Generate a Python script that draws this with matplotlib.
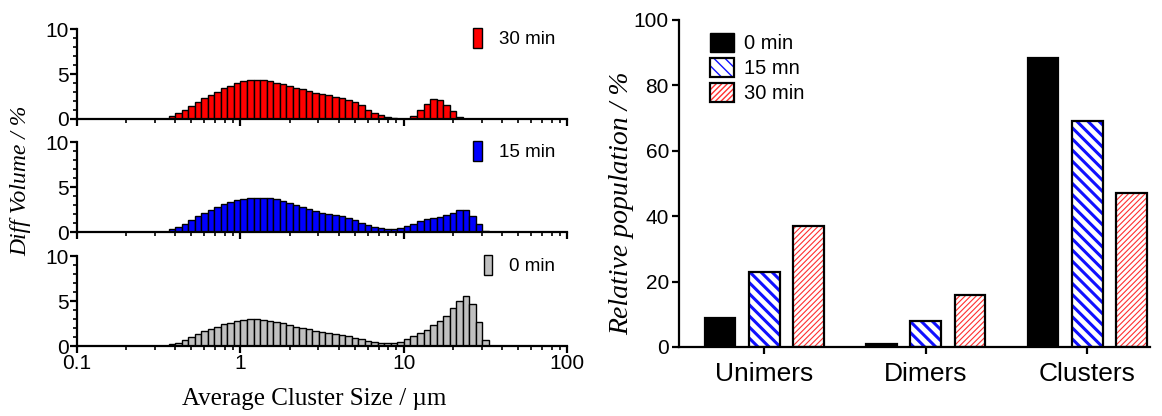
import numpy as np
import matplotlib
matplotlib.use("Agg")
import matplotlib.pyplot as plt
from matplotlib.patches import Patch
from matplotlib.ticker import LogLocator, FixedLocator, MultipleLocator, FixedFormatter

# size classes: 25 channels per decade, first channel starts at 10^(-11/25) um
edges = 10 ** (np.arange(-11, 39) / 25.0)

vol_0 = [0.2, 0.4, 0.7, 1.05, 1.4, 1.7, 1.9, 2.15, 2.45, 2.6,
         2.8, 2.9, 3.0, 3.0, 2.95, 2.85, 2.7, 2.55, 2.35, 2.15,
         2.0, 1.85, 1.7, 1.55, 1.45, 1.35, 1.25, 1.1, 0.9, 0.75,
         0.6, 0.5, 0.4, 0.37, 0.4, 0.5, 0.75, 1.1, 1.5, 1.8,
         2.3, 2.75, 3.4, 4.2, 5.0, 5.6, 4.7, 2.7, 0.65]
vol_15 = [0.37, 0.6, 0.93, 1.37, 1.74, 2.1, 2.44, 2.78, 3.1, 3.37,
          3.6, 3.74, 3.8, 3.85, 3.85, 3.78, 3.67, 3.44, 3.22, 3.0,
          2.78, 2.56, 2.33, 2.15, 2.04, 1.93, 1.78, 1.56, 1.3, 1.0,
          0.74, 0.56, 0.44, 0.37, 0.37, 0.48, 0.67, 0.93, 1.22, 1.44,
          1.6, 1.7, 1.93, 2.15, 2.44, 2.44, 1.8, 0.9, 0.15]
vol_30 = [0.33, 0.67, 1.0, 1.48, 1.9, 2.3, 2.63, 3.0, 3.4, 3.7,
          4.0, 4.19, 4.3, 4.33, 4.33, 4.19, 4.04, 3.89, 3.67, 3.44,
          3.3, 3.11, 2.89, 2.78, 2.63, 2.48, 2.33, 2.15, 1.9, 1.56,
          1.0, 0.67, 0.41, 0.22, 0.07, 0.0, 0.0, 0.33, 0.96, 1.7,
          2.2, 2.15, 1.6, 0.85, 0.26, 0.0, 0.0, 0.0, 0.0]

categories = ["Unimers", "Dimers", "Clusters"]
pop_0 = [9, 1, 88.5]
pop_15 = [23, 8, 69]
pop_30 = [37, 16, 47]

sans = ["Liberation Sans", "DejaVu Sans"]
serif = ["Liberation Serif", "DejaVu Serif"]
plt.rcParams["font.family"] = sans

fig = plt.figure(figsize=(11.62, 4.16), dpi=100)

# --- left: three stacked histograms ---
panels = [
    (0.714, vol_30, "#ff0000", "30 min"),
    (0.442, vol_15, "#0000ff", "15 min"),
    (0.168, vol_0, "#c0c0c0", "0 min"),
]
left_axes = []
for bottom, vals, col, lab in panels:
    ax = fig.add_axes([0.0663, bottom, 0.422, 0.216])
    ax.bar(edges[:-1], vals, width=np.diff(edges), align="edge",
           color=col, edgecolor="black", linewidth=1.0, label=lab)
    ax.set_xscale("log")
    ax.set_xlim(0.1, 100)
    ax.set_ylim(0, 10)
    ax.spines["top"].set_visible(False)
    ax.spines["right"].set_visible(False)
    for s in ("left", "bottom"):
        ax.spines[s].set_linewidth(1.6)
    ax.yaxis.set_major_locator(FixedLocator([0, 5, 10]))
    ax.yaxis.set_minor_locator(MultipleLocator(1))
    ax.xaxis.set_major_locator(FixedLocator([0.1, 1, 10, 100]))
    ax.xaxis.set_minor_locator(LogLocator(base=10, subs=np.arange(2, 10), numticks=10))
    ax.tick_params(which="major", direction="out", length=5, width=1.6, labelsize=15, pad=1)
    ax.tick_params(which="minor", direction="out", length=3, width=1.2)
    ax.legend(loc="upper right", bbox_to_anchor=(0.99, 1.1), frameon=False,
              handlelength=0.45, handleheight=1.3, handletextpad=0.9,
              fontsize=13.5, borderaxespad=0)
    left_axes.append(ax)

for ax in left_axes[:2]:
    ax.tick_params(axis="x", which="both", labelbottom=False)
left_axes[2].xaxis.set_major_formatter(FixedFormatter(["0.1", "1", "10", "100"]))
fig.text(0.270, 0.040, "Average Cluster Size / µm", family=serif, fontsize=18,
         ha="center", va="center")
fig.text(0.018, 0.565, "Diff Volume / %", family=serif, style="italic", fontsize=17,
         rotation=90, ha="center", va="center")

# --- right: relative population bars ---
axr = fig.add_axes([0.584, 0.166, 0.406, 0.786])
x = np.arange(len(categories))
bw = 0.19
step = 0.274
axr.bar(x - step, pop_0, bw, color="black", edgecolor="black", linewidth=1.6)

with plt.rc_context({"hatch.linewidth": 2.2}):
    axr.bar(x, pop_15, bw, color="white", edgecolor="#1010ff", hatch="\\\\\\", linewidth=0)
with plt.rc_context({"hatch.linewidth": 0.8}):
    axr.bar(x + step, pop_30, bw, color="white", edgecolor="#ff3030", hatch="//////", linewidth=0)
axr.bar(x, pop_15, bw, color="none", edgecolor="black", linewidth=1.6)
axr.bar(x + step, pop_30, bw, color="none", edgecolor="black", linewidth=1.6)

# legend proxies
with plt.rc_context({"hatch.linewidth": 2.2}):
    h15 = Patch(facecolor="white", edgecolor="#1010ff", hatch="\\\\\\", linewidth=0)
with plt.rc_context({"hatch.linewidth": 0.8}):
    h30 = Patch(facecolor="white", edgecolor="#ff3030", hatch="//////", linewidth=0)
h0 = Patch(facecolor="black", edgecolor="black")
b15 = Patch(facecolor="none", edgecolor="black", linewidth=1.6)
b30 = Patch(facecolor="none", edgecolor="black", linewidth=1.6)
axr.legend([h0, (h15, b15), (h30, b30)], ["0 min", "15 mn", "30 min"],
           loc="upper left", bbox_to_anchor=(0.05, 0.985), frameon=False,
           fontsize=14.5, handlelength=1.2, handleheight=1.1, handletextpad=0.5,
           labelspacing=0.22, borderaxespad=0)

axr.set_xlim(-0.53, 2.39)
axr.set_ylim(0, 100)
axr.set_xticks(x)
axr.set_xticklabels(categories, fontsize=19)
axr.yaxis.set_major_locator(MultipleLocator(20))
axr.spines["top"].set_visible(False)
axr.spines["right"].set_visible(False)
for s in ("left", "bottom"):
    axr.spines[s].set_linewidth(1.6)
axr.tick_params(axis="y", direction="out", length=5, width=1.6, labelsize=15, pad=2)
axr.tick_params(axis="x", direction="out", length=5, width=1.6, pad=6)
fig.text(0.535, 0.512, "Relative population / %", family=serif, style="italic",
         fontsize=20, rotation=90, ha="center", va="center")

fig.savefig("out.png", dpi=100)
